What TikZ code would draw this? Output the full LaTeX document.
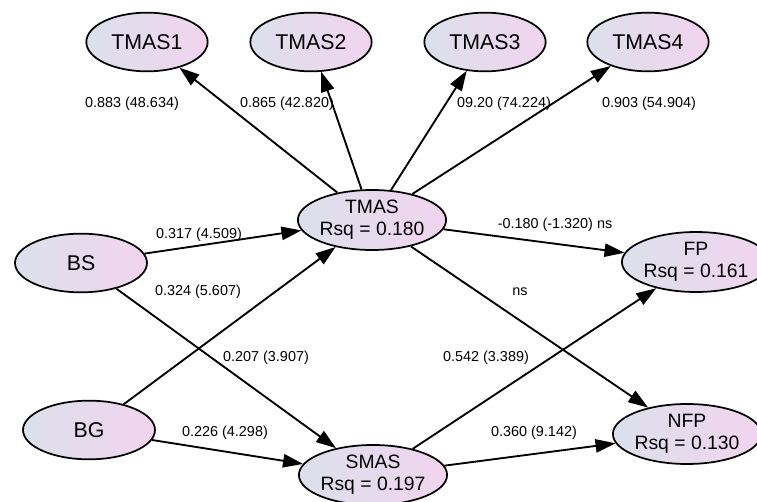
\documentclass[tikz,border=0pt]{standalone}
\usepackage{fontspec}
\setmainfont{Liberation Sans}
\usetikzlibrary{shapes.geometric,arrows.meta}
\definecolor{latleft}{HTML}{DCE0EC}
\definecolor{latright}{HTML}{F2D4EF}
\begin{document}
\begin{tikzpicture}[
x=0.75pt, y=-0.75pt,
latent/.style={ellipse, draw, line width=1.3pt, left color=latleft, right color=latright,
  minimum width=91pt, minimum height=44pt, inner sep=0pt, align=center,
  font=\fontsize{16}{17}\selectfont},
endog/.style={latent, minimum width=97pt, minimum height=45pt,
  font=\fontsize{14.5}{16.5}\selectfont},
path/.style={line width=1.4pt, -{Triangle[length=15pt,width=10pt]}},
coef/.style={font=\fontsize{10.8}{12}\selectfont, inner sep=1pt},
]
    \useasboundingbox (0,0) rectangle (757,502);
    % indicators
    \node[latent](tmas1) at (147,42) {TMAS1};
    \node[latent](tmas2) at (311,42) {TMAS2};
    \node[latent](tmas3) at (485,42) {TMAS3};
    \node[latent](tmas4) at (648,42) {TMAS4};
    % constructs
    \node[endog](tmas) at (372,220) {TMAS\\Rsq = 0.180};
    \node[latent, minimum width=99pt](bs) at (81,263) {BS};
    \node[latent, minimum width=99pt](bg) at (89,430) {BG};
    \node[endog](smas) at (373,475) {SMAS\\Rsq = 0.197};
    \node[endog, minimum width=92pt](fp) at (696,262) {FP\\Rsq = 0.161};
    \node[endog](nfp) at (687,434) {NFP\\Rsq = 0.130};

    \draw[path] (tmas) -- (tmas1);
    \draw[path] (tmas) -- (tmas2);
    \draw[path] (tmas) -- (tmas3);
    \draw[path] (tmas) -- (tmas4);
    \draw[path] (bs) -- (tmas);
    \draw[path] (bs) -- (smas);
    \draw[path] (bg) -- (tmas);
    \draw[path] (bg) -- (smas);
    \draw[path] (tmas) -- (fp);
    \draw[path] (tmas) -- (nfp);
    \draw[path] (smas) -- (fp);
    \draw[path] (smas) -- (nfp);

    % path coefficients
    \node[coef](c1) at (132,104) {0.883 (48.634)};
    \node[coef](c2) at (287,104) {0.865 (42.820)};
    \node[coef](c3) at (504,104) {09.20 (74.224)};
    \node[coef](c4) at (649,104) {0.903 (54.904)};
    \node[coef](c5) at (199,235) {0.317 (4.509)};
    \node[coef](c6) at (198,292) {0.324 (5.607)};
    \node[coef](c7) at (555,225) {-0.180 (-1.320) ns};
    \node[coef](c8) at (520,292) {ns};
    \node[coef](c9) at (266,358) {0.207 (3.907)};
    \node[coef](c10) at (225,433) {0.226 (4.298)};
    \node[coef](c11) at (486,358) {0.542 (3.389)};
    \node[coef](c12) at (534,433) {0.360 (9.142)};
\end{tikzpicture}
\end{document}
